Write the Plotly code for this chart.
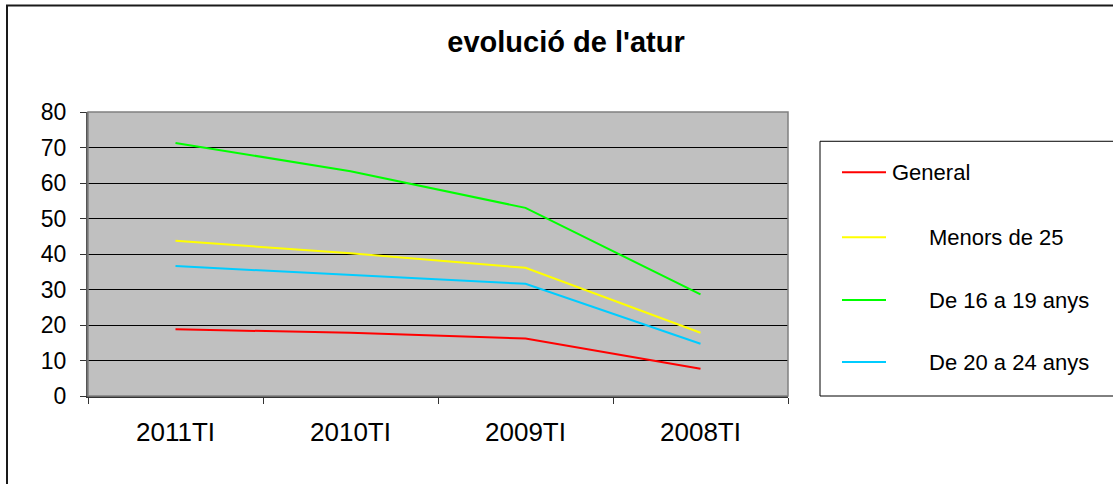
import plotly.graph_objects as go

categories = ["2011TI", "2010TI", "2009TI", "2008TI"]
series_names = ["General", "Menors de 25", "De 16 a 19 anys", "De 20 a 24 anys"]
general = [18.8, 17.8, 16.2, 7.7]
menors_25 = [43.7, 40.2, 36.1, 17.8]
de_16_19 = [71.3, 63.3, 53.0, 28.6]
de_20_24 = [36.6, 34.0, 31.6, 14.7]
series_values = [general, menors_25, de_16_19, de_20_24]
colors = ["#FF0000", "#FFFF00", "#00FF00", "#00CCFF"]
y_ticks = [0, 10, 20, 30, 40, 50, 60, 70, 80]

FONT = "Liberation Sans, Arial, sans-serif"
W, H = 1113, 484
# plot area in pixels
L, R, T, B = 88, 788, 111.7, 396

fig = go.Figure()
for name, vals, col in zip(series_names, series_values, colors):
    fig.add_trace(go.Scatter(x=categories, y=vals, mode="lines", name=name,
                             line=dict(color=col, width=2), showlegend=False))

def px(x):
    return (x - L) / (R - L)

def py(y):
    return (B - y) / (B - T)

shapes = [
    # outer chart border
    dict(type="rect", xref="paper", yref="paper", x0=px(7), x1=px(1140), y0=py(5), y1=py(530),
         line=dict(color="#1a1a1a", width=2), layer="above"),
    # plot area frame (top/right gray)
    dict(type="rect", xref="paper", yref="paper", x0=0, x1=1, y0=0, y1=1,
         line=dict(color="#808080", width=1.5), layer="above"),
    # legend box
    dict(type="rect", xref="paper", yref="paper", x0=px(820), x1=px(1140), y0=py(141), y1=py(396),
         line=dict(color="#000000", width=1), fillcolor="white", layer="above"),
]
annotations = []
legend_rows = [172, 237, 300, 362]
text_x = [890, 927, 927, 927]
for name, col, yr, tx in zip(series_names, colors, legend_rows, text_x):
    shapes.append(dict(type="line", xref="paper", yref="paper", x0=px(842), x1=px(886),
                       y0=py(yr), y1=py(yr), line=dict(color=col, width=2), layer="above"))
    annotations.append(dict(xref="paper", yref="paper", x=px(tx), y=py(yr), text=name,
                            showarrow=False, xanchor="left", yanchor="middle",
                            font=dict(family=FONT, size=22, color="black")))

fig.update_layout(
    width=W, height=H,
    margin=dict(l=L, r=W - R, t=T, b=H - B, pad=0),
    paper_bgcolor="white", plot_bgcolor="#C0C0C0",
    title=dict(text="<b>evolució de l'atur</b>", xref="container", yref="container",
               x=566 / W, y=1 - 42 / H, xanchor="center", yanchor="middle",
               font=dict(family=FONT, size=29, color="black")),
    font=dict(family=FONT, color="black"),
    xaxis=dict(type="category", categoryorder="array", categoryarray=categories,
               range=[-0.5, 3.5], tickson="boundaries", ticks="outside", ticklen=6,
               tickcolor="#333333", showgrid=False, showline=True, linecolor="#333333",
               linewidth=1.5, tickfont=dict(size=26, family=FONT), ticklabelstandoff=12),
    yaxis=dict(range=[0, 80], tickvals=y_ticks, ticks="outside", ticklen=6,
               tickcolor="#333333", showgrid=True, gridcolor="#000000", gridwidth=1,
               showline=True, linecolor="#555555", linewidth=2, zeroline=False,
               tickfont=dict(size=23, family=FONT), ticklabelstandoff=9),
    shapes=shapes, annotations=annotations,
)

fig.write_html("out.html", config={"displayModeBar": False},
               post_script="document.body.style.margin='0';document.body.style.overflow='hidden';")
